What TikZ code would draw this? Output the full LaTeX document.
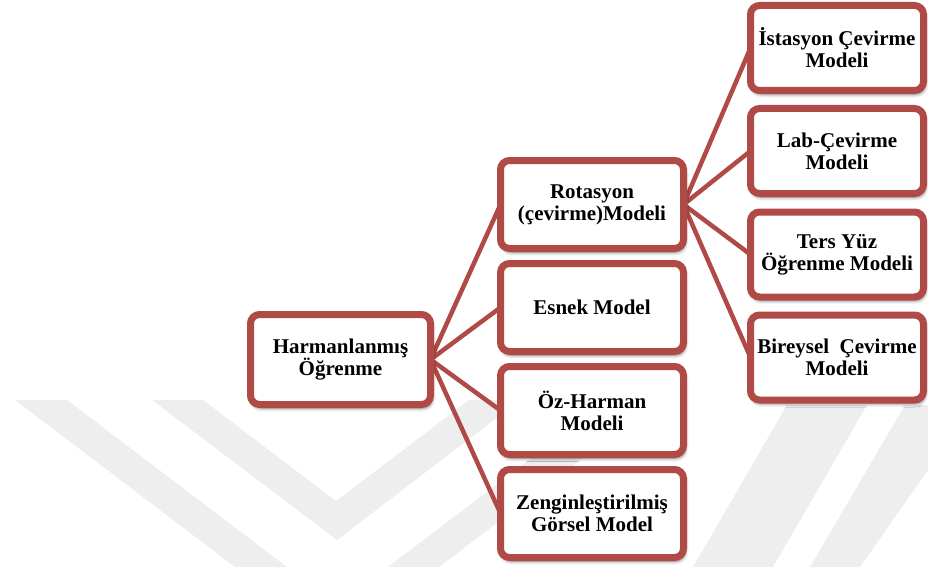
\documentclass[tikz,border=0pt]{standalone}
\usepackage{fontspec}
\setmainfont{Liberation Serif}
\usetikzlibrary{shadows.blur,backgrounds}
\definecolor{boxred}{RGB}{176,74,71}
\definecolor{wmgray}{RGB}{238,238,238}
\tikzset{
  mbox/.style={draw=boxred, line width=7pt, rounded corners=9pt, fill=white,
    align=center, font=\fontsize{21}{22}\selectfont\bfseries,
    inner sep=2pt, outer sep=0pt,
    blur shadow={shadow xshift=1.5pt, shadow yshift=-3.5pt,
      shadow blur radius=3.5pt, shadow opacity=60}},
  midbox/.style={mbox, minimum width=183pt, minimum height=88pt},
  leafbox/.style={mbox, minimum width=173pt, minimum height=85pt},
  link/.style={draw=boxred, line width=4.5pt},
  wm/.style={fill=wmgray}
}
\begin{document}
\begin{tikzpicture}[x=1pt,y=-1pt]
\path[use as bounding box] (0,0) rectangle (928,567);

% root
\node[mbox, minimum width=180pt, minimum height=90pt] (root) at (340.5,359.5)
  {Harmanlanmış\\Öğrenme};

% second level
\node[midbox] (rot) at (592,204.5) {Rotasyon\\(çevirme)Modeli};
\node[midbox] (esn) at (592,307.5) {Esnek Model};
\node[midbox] (oz)  at (592,410.5) {Öz-Harman\\Modeli};
\node[midbox] (zen) at (592,513.5) {Zenginleştirilmiş\\Görsel Model};

% third level
\node[leafbox] (ist) at (837,48)    {İstasyon Çevirme\\Modeli};
\node[leafbox] (lab) at (837,151)   {Lab-Çevirme\\Modeli};
\node[leafbox] (ters) at (837,254.5) {Ters Yüz\\Öğrenme Modeli};
\node[leafbox] (bir) at (837,357.5) {Bireysel~ Çevirme\\Modeli};

\begin{pgfonlayer}{background}
  % faint background emblem
  \fill[wm] (15,400) -- (67,400) -- (287,567) -- (235,567) -- cycle;
  \fill[wm] (152,400) -- (203,400) -- (336,501) -- (469,400) -- (520,400)
            -- (337,540) -- cycle;
  \fill[wm] (388,567) -- (439,567) -- (659,400) -- (608,400) -- cycle;
  \fill[wm] (693,567) -- (773,567) -- (867,405) -- (787,405) -- cycle;
  \fill[wm] (810,567) -- (860,567) -- (928,470) -- (928,405) -- (905,405) -- cycle;
  % connectors
  \foreach \t in {rot,esn,oz,zen}
    \draw[link] (root.east) -- (\t.west);
  \foreach \t in {ist,lab,ters,bir}
    \draw[link] (rot.east) -- (\t.west);
\end{pgfonlayer}
\end{tikzpicture}
\end{document}
